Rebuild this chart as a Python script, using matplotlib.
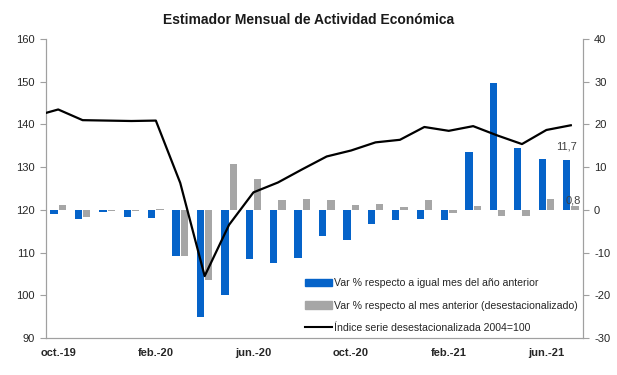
import matplotlib
matplotlib.use('Agg')
import matplotlib.pyplot as plt
import numpy as np
from matplotlib.patches import Patch
from matplotlib.lines import Line2D

plt.rcParams['font.family'] = ['Liberation Sans', 'DejaVu Sans']
plt.rcParams['axes.unicode_minus'] = False

# months shown (oct-19 .. jul-21)
months = ['oct.-19', 'nov.-19', 'dic.-19', 'ene.-20', 'feb.-20', 'mar.-20', 'abr.-20',
          'may.-20', 'jun.-20', 'jul.-20', 'ago.-20', 'sep.-20', 'oct.-20', 'nov.-20',
          'dic.-20', 'ene.-21', 'feb.-21', 'mar.-21', 'abr.-21', 'may.-21', 'jun.-21',
          'jul.-21']
tick_labels = ['oct.-19', 'feb.-20', 'jun.-20', 'oct.-20', 'feb.-21', 'jun.-21']

# var % interanual (blue bars, right axis)
var_ia = [-1.0, -2.1, -0.5, -1.7, -1.9, -10.9, -25.0, -20.0, -11.6, -12.5, -11.3,
          -6.1, -7.0, -3.3, -2.3, -2.1, -2.3, 13.6, 29.7, 14.5, 11.8, 11.7]
# var % mensual desestacionalizada (gray bars, right axis)
var_mm = [1.2, -1.7, -0.2, -0.2, 0.2, -10.9, -16.4, 10.8, 7.3, 2.2, 2.6, 2.4, 1.2,
          1.4, 0.6, 2.4, -0.7, 1.0, -1.5, -1.5, 2.5, 0.8]
# indice desestacionalizado (left axis), sep-19 first so the line runs to the edge
indice_sep19 = 141.9
indice = [143.5, 141.0, 140.9, 140.8, 140.9, 126.3, 104.5, 116.5, 124.1, 126.4, 129.5,
          132.5, 133.9, 135.8, 136.4, 139.4, 138.5, 139.6, 137.4, 135.4, 138.7, 139.8]

blue = '#0563C9'
gray = '#A6A6A6'
axcol = '#A0A0A0'
txtcol = '#262626'

fig = plt.figure(figsize=(6.17, 3.75), dpi=100)
ax = fig.add_axes([46/617, 1-338/375, (583-46)/617, (338-39)/375])
axr = ax.twinx()

x = np.arange(len(months))
w = 0.3
axr.bar(x - 0.17, var_ia, w, color=blue)
axr.bar(x + 0.17, var_mm, w, color=gray)

xl = np.arange(-1, len(months))
ax.plot(xl, [indice_sep19] + indice, color='black', lw=1.6, zorder=5)

ax.set_zorder(2)
axr.set_zorder(1)
ax.patch.set_visible(False)

ax.set_xlim(-0.5, len(months) - 0.5)
ax.set_ylim(90, 160)
axr.set_ylim(-30, 40)
ax.set_yticks(np.arange(90, 161, 10))
axr.set_yticks(np.arange(-30, 41, 10))

ticks_pos = [months.index(t) for t in tick_labels]
ax.set_xticks(ticks_pos)
ax.set_xticklabels(tick_labels, fontweight='bold', fontsize=8, color=txtcol)
ax.tick_params(axis='x', length=0, pad=7)
ax.tick_params(axis='y', length=4, width=0.8, color=axcol, labelsize=8, labelcolor=txtcol, pad=4)
axr.tick_params(axis='y', length=4, width=0.8, color=axcol, labelsize=8, labelcolor=txtcol, pad=4)

for a in (ax, axr):
    a.spines['top'].set_visible(False)
    for s in ('left', 'right', 'bottom'):
        a.spines[s].set_color(axcol)
        a.spines[s].set_linewidth(0.8)

# data labels on last month
n = len(months) - 1
axr.annotate('11,7', (n - 0.17, var_ia[n]), xytext=(0, 6), textcoords='offset points',
             ha='center', va='bottom', fontsize=8, color='#404040')
axr.annotate('0,8', (n + 0.17, var_mm[n]), xytext=(-1, 1), textcoords='offset points',
             ha='center', va='bottom', fontsize=8, color='#404040')

handles = [Patch(color=blue), Patch(color=gray), Line2D([], [], color='black', lw=1.5)]
labels = ['Var % respecto a igual mes del año anterior',
          'Var % respecto al mes anterior (desestacionalizado)',
          'Índice serie desestacionalizada 2004=100']
ax.legend(handles, labels, loc='lower right', bbox_to_anchor=(1.0, 0.0), frameon=False,
          fontsize=7.6, handlelength=2.5, handletextpad=0.2, labelspacing=1.15,
          borderpad=0.3, borderaxespad=0.2, labelcolor=txtcol)

fig.text(0.5, 1 - 20/375, 'Estimador Mensual de Actividad Económica', ha='center',
         va='center', fontsize=10, fontweight='bold', color='#1a1a1a')

fig.savefig('out.png', dpi=100)
